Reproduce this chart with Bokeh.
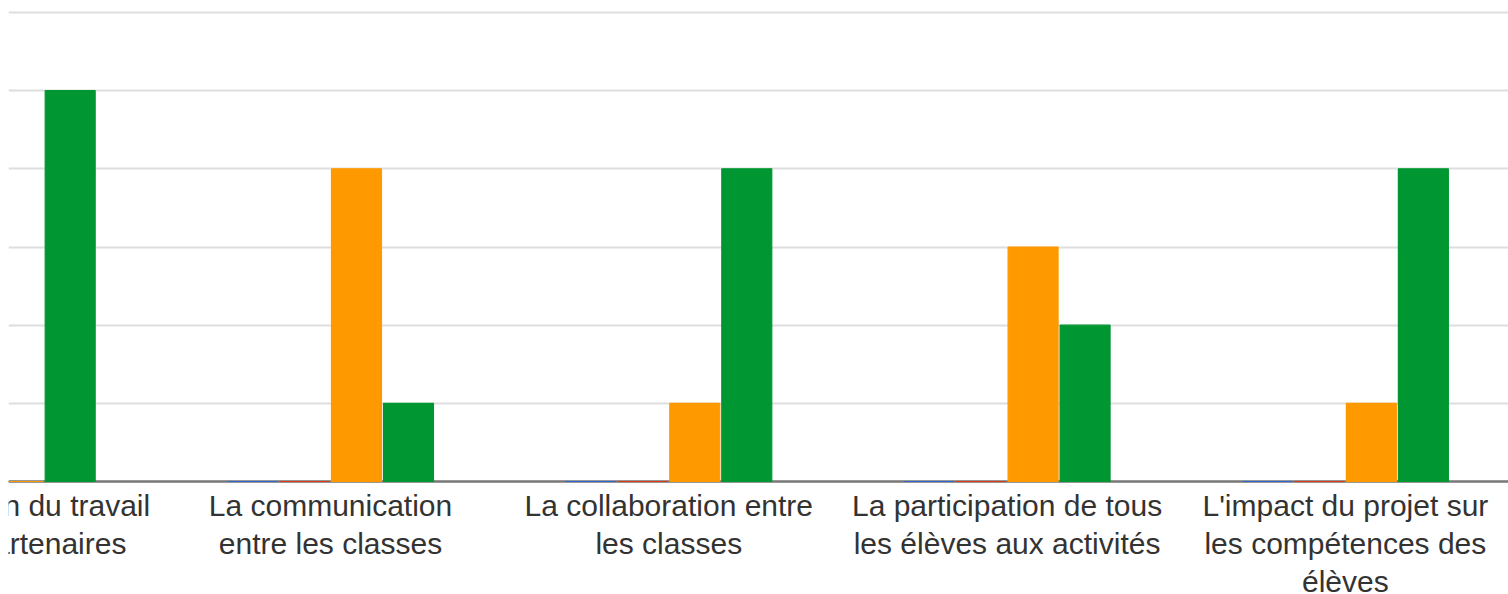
from bokeh.plotting import figure
from bokeh.models import ColumnDataSource, Range1d, FixedTicker, Span
from bokeh.transform import dodge
from bokeh.core.properties import value
from bokeh.embed import file_html
from bokeh.resources import INLINE

categories = [
    "L'organisation du travail\navec les partenaires",
    "La communication\nentre les classes",
    "La collaboration entre\nles classes",
    "La participation de tous\nles élèves aux activités",
    "L'impact du projet sur\nles compétences des\nélèves",
]
series_names = ["Pas satisfait", "Peu satisfait", "Satisfait", "Très satisfait"]
pas_satisfait = [0, 0, 0, 0, 0]
peu_satisfait = [0, 0, 0, 0, 0]
satisfait = [0, 4, 1, 3, 1]
tres_satisfait = [5, 1, 4, 2, 4]
y_ticks = [0, 1, 2, 3, 4, 5, 6]

colors = ["#3366cc", "#dc3912", "#ff9900", "#009632"]

src = ColumnDataSource(dict(
    x=list(range(len(categories))),
    label=categories,
    s0=pas_satisfait, s1=peu_satisfait, s2=satisfait, s3=tres_satisfait,
))

p = figure(width=1508, height=594, output_backend="svg", toolbar_location=None,
           x_range=Range1d(0.0482, 4.4822), y_range=Range1d(-1.4456, 6.1535),
           min_border_left=8, min_border_right=0, min_border_top=0,
           min_border_bottom=0, outline_line_color=None)

pitch = 0.1537
offsets = [-1.5 * pitch, -0.5 * pitch, 0.5 * pitch, 1.5 * pitch]

p.add_layout(Span(location=0, dimension="width", line_color="#7a7a7a",
                  line_width=2.5, level="underlay"))

for i, (off, col) in enumerate(zip(offsets, colors)):
    p.vbar(x=dodge("x", off, range=p.x_range), top=f"s{i}", bottom=0,
           width=pitch - 0.006, source=src, fill_color=col,
           line_color=col, line_width=1.2)

p.text(x="x", y=0, text="label", source=src, y_offset=7,
       text_align="center", text_baseline="top",
       text_font=value("Liberation Sans"), text_font_size="30px",
       text_color="#333333", text_line_height=1.16)

p.xaxis.visible = False
p.yaxis.visible = False
p.ygrid.ticker = FixedTicker(ticks=y_ticks)
p.ygrid.grid_line_color = "#dedede"
p.ygrid.grid_line_width = 2
p.xgrid.visible = False

open("out.html", "w").write(file_html(p, INLINE))
